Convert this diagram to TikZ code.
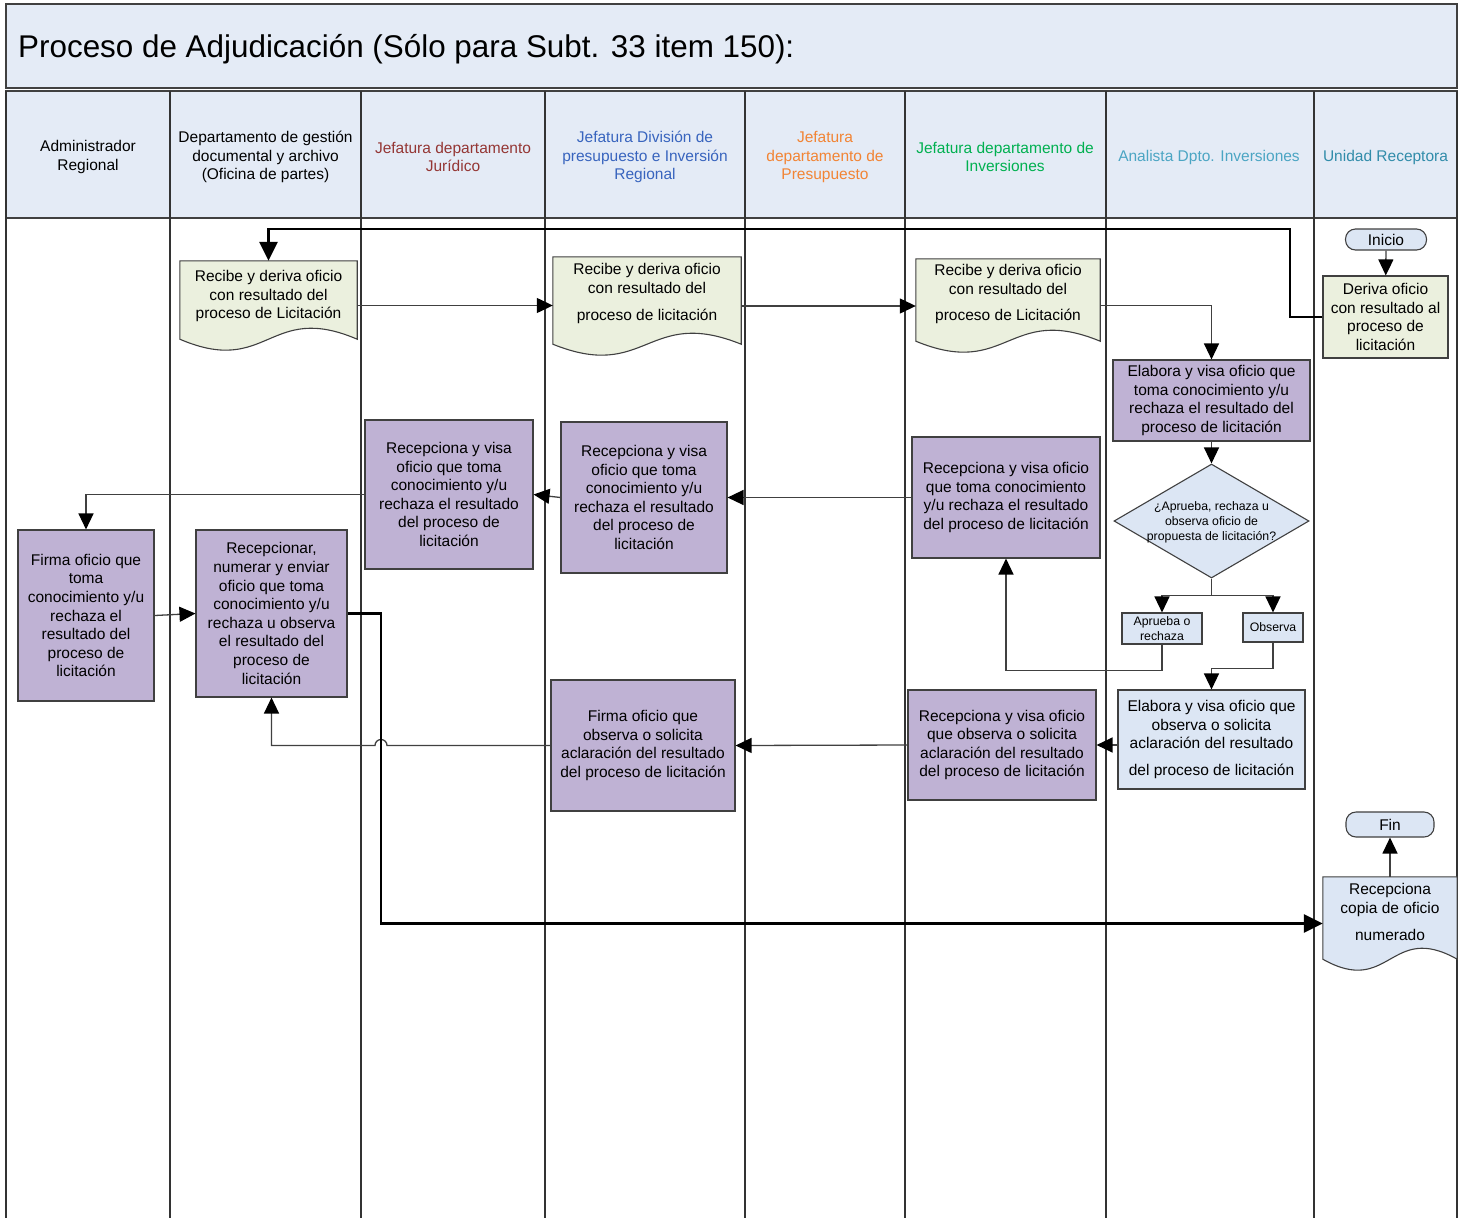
\documentclass[tikz,border=0pt]{standalone}
\usepackage{fontspec}
\setmainfont{Liberation Sans}
\usetikzlibrary{arrows.meta,shapes.geometric,calc}

\definecolor{bandblue}{RGB}{228,235,246}
\definecolor{paleblue}{RGB}{220,230,244}
\definecolor{palegreen}{RGB}{235,240,222}
\definecolor{lilac}{RGB}{191,178,212}
\definecolor{edgegray}{RGB}{64,64,64}
\definecolor{jurred}{RGB}{148,54,52}
\definecolor{divblue}{RGB}{56,100,190}
\definecolor{preorange}{RGB}{242,132,52}
\definecolor{invgreen}{RGB}{0,176,80}
\definecolor{anateal}{RGB}{75,165,195}
\definecolor{unteal}{RGB}{49,140,170}

% document symbol: flat top, wavy bottom
\newcommand\docshape[2]{%
  \filldraw[draw=edgegray, line width=1.1pt, fill=#2]
    (#1.north west) -- (#1.north east) -- ($(#1.south east)+(0,-11)$)
    .. controls ($(#1.south)+(0,-49)$) and ($(#1.south)+(0,27)$) ..
    ($(#1.south west)+(0,-11)$) -- cycle;}

\begin{document}
\begin{tikzpicture}[x=1pt,y=-1pt,
  every node/.style={font=\fontsize{15.5}{18.6}\selectfont, inner sep=0pt, align=center},
  box/.style={draw=edgegray, line width=1.1pt, rectangle},
  act/.style={box, fill=lilac},
  note/.style={box, fill=paleblue},
  greenbox/.style={box, fill=palegreen},
  docnode/.style={rectangle, draw=none},
  term/.style={box, fill=paleblue, rounded corners=10pt},
  small/.style={font=\fontsize{12.3}{15}\selectfont},
  conn/.style={draw=edgegray, line width=1.3pt, -{Triangle[length=16pt,width=15pt,color=black]}},
  heavy/.style={draw=black, line width=2.6pt, -{Triangle[length=19pt,width=18pt]}},
  lane/.style={draw=edgegray!80!black, line width=1.8pt},
  head/.style={font=\fontsize{15.5}{18.6}\selectfont}
]
\useasboundingbox (0,0) rectangle (1463,1218);
\fill[white] (0,0) rectangle (1463,1218);

% title band and header row
\filldraw[fill=bandblue, draw=edgegray, line width=1.2pt] (6,4) rectangle (1457,88);
\filldraw[fill=bandblue, draw=edgegray, line width=1.2pt] (6,91) rectangle (1457,218);
\node[anchor=west, font=\fontsize{31.4}{36}\selectfont] (title) at (18,49)
  {Proceso de Adjudicación (Sólo para Subt. 33 item 150):};

% swimlane borders
\foreach \lx in {6,170,361,545,745,905,1106,1314,1457}
  \draw[lane] (\lx,91) -- (\lx,1218);

% lane headings
\node[head] (h1) at (88,157) {Administrador\\Regional};
\node[head] (h2) at (265.5,157) {Departamento de gestión\\documental y archivo\\(Oficina de partes)};
\node[head, text=jurred] (h3) at (453,157) {Jefatura departamento\\Jurídico};
\node[head, text=divblue] (h4) at (645,157) {Jefatura División de\\presupuesto e Inversión\\Regional};
\node[head, text=preorange] (h5) at (825,157) {Jefatura\\departamento de\\Presupuesto};
\node[head, text=invgreen] (h6) at (1005,157) {Jefatura departamento de\\Inversiones};
\node[head, text=anateal] (h7) at (1209,157) {Analista Dpto. Inversiones};
\node[head, text=unteal] (h8) at (1385.5,157) {Unidad Receptora};

% start / end
\node[term, minimum width=81pt, minimum height=21pt] (ini) at (1386,239.5) {Inicio};
\node[term, minimum width=88pt, minimum height=25pt] (fin) at (1390,824.5) {Fin};

% unidad receptora
\node[greenbox, minimum width=125pt, minimum height=82pt] (der) at (1385.5,317)
  {Deriva oficio\\con resultado al\\proceso de\\licitación};

% document symbols
\node[docnode, minimum width=177pt, minimum height=89pt] (rec1) at (268.5,305.5) {};
\docshape{rec1}{palegreen}
\node (rec1t) at ($(rec1)+(0,-9.5)$) {Recibe y deriva oficio\\con resultado del\\proceso de Licitación};

\node[docnode, minimum width=188pt, minimum height=98pt] (rec2) at (647,306) {};
\docshape{rec2}{palegreen}
\node (rec2t) at ($(rec2)+(0,-12.5)$) {Recibe y deriva oficio\\con resultado del\\[8pt]proceso de licitación};

\node[docnode, minimum width=184pt, minimum height=93pt] (rec3) at (1008,305.5) {};
\docshape{rec3}{palegreen}
\node (rec3t) at ($(rec3)+(0,-11.5)$) {Recibe y deriva oficio\\con resultado del\\[8pt]proceso de Licitación};

\node[docnode, minimum width=134pt, minimum height=93pt] (copia) at (1390,923.5) {};
\docshape{copia}{paleblue}
\node (copiat) at ($(copia)+(0,-11.5)$) {Recepciona\\copia de oficio\\[8pt]numerado};

% analyst lane
\node[act, minimum width=197pt, minimum height=81pt] (elab) at (1211.5,400.5)
  {Elabora y visa oficio que\\toma conocimiento y/u\\rechaza el resultado del\\proceso de licitación};
\node[diamond, draw=edgegray, line width=1.1pt, fill=paleblue, aspect=1.7,
      minimum width=195pt, minimum height=114pt] (dec) at (1211.5,521) {};
\node[small] (dect) at ($(dec)+(0,1)$) {¿Aprueba, rechaza u\\observa oficio de\\propuesta de licitación?};
\node[note, small, minimum width=80pt, minimum height=31pt] (apr) at (1162,628.5) {Aprueba o\\rechaza};
\node[note, small, minimum width=60pt, minimum height=29pt] (obs) at (1273,627.5) {Observa};
\node[note, minimum width=187pt, minimum height=99pt] (elabobs) at (1211.5,739.5)
  {Elabora y visa oficio que\\observa o solicita\\aclaración del resultado\\[8pt]del proceso de licitación};

% inversiones lane
\node[act, minimum width=188pt, minimum height=121pt] (recinv) at (1006,497.5)
  {Recepciona y visa oficio\\que toma conocimiento\\y/u rechaza el resultado\\del proceso de licitación};
\node[act, minimum width=188pt, minimum height=110pt] (recobs) at (1002,745)
  {Recepciona y visa oficio\\que observa o solicita\\aclaración del resultado\\del proceso de licitación};

% division lane
\node[act, minimum width=166pt, minimum height=151pt] (recdiv) at (644,497.5)
  {Recepciona y visa\\oficio que toma\\conocimiento y/u\\rechaza el resultado\\del proceso de\\licitación};
\node[act, minimum width=184pt, minimum height=131pt] (fo) at (643,745.5)
  {Firma oficio que\\observa o solicita\\aclaración del resultado\\del proceso de licitación};

% juridico lane
\node[act, minimum width=168pt, minimum height=149pt] (recjur) at (449,494.5)
  {Recepciona y visa\\oficio que toma\\conocimiento y/u\\rechaza el resultado\\del proceso de\\licitación};

% oficina de partes
\node[act, minimum width=151pt, minimum height=167pt] (recnum) at (271.5,613.5)
  {Recepcionar,\\numerar y enviar\\oficio que toma\\conocimiento y/u\\rechaza u observa\\el resultado del\\proceso de\\licitación};

% administrador
\node[act, minimum width=136pt, minimum height=171pt] (firma) at (86,615.5)
  {Firma oficio que\\toma\\conocimiento y/u\\rechaza el\\resultado del\\proceso de\\licitación};

% routing points
\coordinate (k1) at (1290,229);
\coordinate (k2) at (381,0);
\coordinate (k3) at (387,0);

% connectors
\draw[conn] (ini) -- (der);
\draw[heavy] (der.west) -| (k1) -| (rec1.north);
\draw[conn] (rec1.east) -- (rec1.east -| rec2.west);
\draw[conn] (rec2.east) -- (rec2.east -| rec3.west);
\draw[conn] (rec3.east) -| (elab.north);
\draw[conn] (elab) -- (dec);
\draw[conn] (dec.south) -- ++(0,17) -| (apr.north);
\draw[conn] (dec.south) -- ++(0,17) -| (obs.north);
\draw[conn] (apr.south) -- ++(0,26) -| (recinv.south);
\draw[conn] (obs.south) -- ++(0,26) -| (elabobs.north);
\draw[conn] (elabobs.west |- recobs.east) -- (recobs.east);
\draw[conn] (recobs.west) -- (fo.east);
\draw[conn] (fo.west) -- (fo.west -| k3) arc[start angle=0, end angle=-180, radius=6]
  -- (fo.west -| recnum.south) -- (recnum.south);
\draw[conn] (recinv.west) -- (recdiv.east);
\draw[conn] (recdiv.west) -- (recjur.east);
\draw[conn] (recjur.west) -| (firma.north);
\draw[conn] (firma.east) -- (recnum.west);
\draw[heavy] (recnum.east) -| (k2 |- copia.west) -- (copia.west);
\draw[conn] (copia.north) -- (fin.south);
\end{tikzpicture}
\end{document}
